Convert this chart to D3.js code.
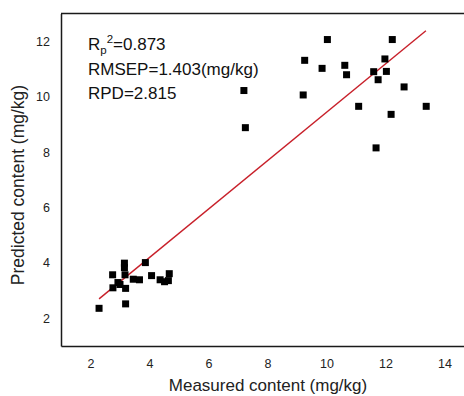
<!DOCTYPE html>
<html>
<head>
<meta charset="utf-8">
<script src="https://cdn.jsdelivr.net/npm/d3@7"></script>
<style>
  body { margin: 0; background: #fff; }
  svg { display: block; font-family: "Liberation Sans", Arial, sans-serif; }
</style>
</head>
<body>
<div id="chart"></div>
<script>
// measured vs predicted (mg/kg)
var measured = [
  2.29, 3.19, 3.15, 3.15, 3.86, 2.75, 3.17, 3.45, 3.66, 4.07, 4.36, 4.51, 4.67, 4.64, 2.76, 3.00, 3.19, 2.93,
  7.20, 7.25, 9.21, 9.26, 9.85, 10.03, 10.62, 10.68, 11.09, 11.60, 11.68, 11.75, 11.98, 12.03, 12.19, 12.23, 12.63, 13.38
];
var predicted = [
  2.36, 2.52, 3.99, 3.83, 4.01, 3.57, 3.57, 3.41, 3.39, 3.54, 3.39, 3.32, 3.61, 3.36, 3.10, 3.22, 3.08, 3.29,
  10.22, 8.88, 10.06, 11.31, 11.02, 12.06, 11.13, 10.79, 9.65, 10.90, 8.15, 10.61, 11.36, 10.91, 9.36, 12.06, 10.35, 9.65
];
// fitted line end points
var fitX = [2.29, 13.37];
var fitY = [2.70, 12.38];

var xTicks = [2, 4, 6, 8, 10, 12, 14];
var yTicks = [2, 4, 6, 8, 10, 12];

var width = 464, height = 396;

var svg = d3.select("#chart").append("svg")
  .attr("width", width)
  .attr("height", height);

var x = d3.scaleLinear().domain([1, 15]).range([61, 474]);
var y = d3.scaleLinear().domain([1, 13]).range([346, 13.5]);

// frame
svg.append("line")
  .attr("x1", x(1)).attr("x2", x(15))
  .attr("y1", y(13)).attr("y2", y(13))
  .attr("stroke", "#1a1a1a").attr("stroke-width", 1.5);

var xAxis = d3.axisBottom(x).tickValues(xTicks).tickSize(0).tickSizeOuter(0).tickPadding(13);
var yAxis = d3.axisLeft(y).tickValues(yTicks).tickSize(0).tickSizeOuter(0).tickPadding(11);

var gx = svg.append("g")
  .attr("transform", "translate(0," + y(1) + ")")
  .call(xAxis);
var gy = svg.append("g")
  .attr("transform", "translate(" + x(1) + ",0)")
  .call(yAxis);

[gx, gy].forEach(function(g) {
  g.select(".domain").attr("stroke", "#1a1a1a").attr("stroke-width", 1.5);
  g.selectAll("text")
    .style("font-family", "Liberation Sans, Arial, sans-serif")
    .style("font-size", "12.5px")
    .attr("fill", "#222");
});

// axis titles
svg.append("text")
  .attr("x", 268)
  .attr("y", 391)
  .attr("text-anchor", "middle")
  .style("font-size", "17px")
  .attr("fill", "#222")
  .text("Measured content (mg/kg)");

svg.append("text")
  .attr("transform", "translate(24,185) rotate(-90)")
  .attr("text-anchor", "middle")
  .style("font-size", "17.5px")
  .attr("fill", "#222")
  .text("Predicted content (mg/kg)");

// fit line
svg.append("line")
  .attr("x1", x(fitX[0])).attr("y1", y(fitY[0]))
  .attr("x2", x(fitX[1])).attr("y2", y(fitY[1]))
  .attr("stroke", "#c8202a")
  .attr("stroke-width", 1.4);

// points
var pts = measured.map(function(d, i) { return { m: d, p: predicted[i] }; });
var sz = 7;
svg.selectAll(".pt")
  .data(pts)
  .enter().append("rect")
  .attr("class", "pt")
  .attr("x", function(d) { return x(d.m) - sz / 2; })
  .attr("y", function(d) { return y(d.p) - sz / 2; })
  .attr("width", sz)
  .attr("height", sz)
  .attr("fill", "#000");

// stats text
var stats = svg.append("g").attr("fill", "#111").style("font-size", "17px");
var t1 = stats.append("text").attr("x", 88).attr("y", 50);
t1.append("tspan").text("R");
t1.append("tspan").attr("dy", 4).style("font-size", "11.5px").text("p");
t1.append("tspan").attr("dy", -11).style("font-size", "11.5px").text("2");
t1.append("tspan").attr("dy", 7).text("=0.873");

stats.append("text").attr("x", 88).attr("y", 75).text("RMSEP=1.403(mg/kg)");
stats.append("text").attr("x", 88).attr("y", 99).text("RPD=2.815");
</script>
</body>
</html>
